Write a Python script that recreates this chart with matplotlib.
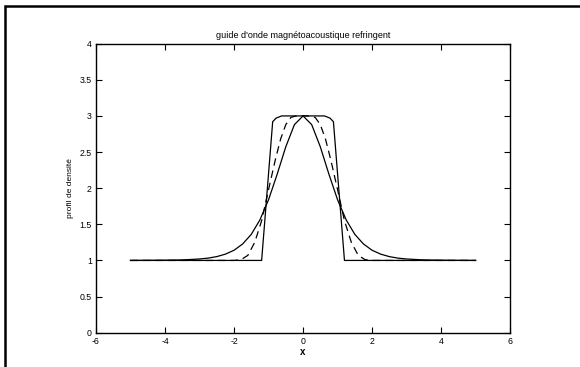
import matplotlib
matplotlib.use("Agg")
import matplotlib.pyplot as plt
from matplotlib.patches import Rectangle
from matplotlib.ticker import FormatStrFormatter

plt.rcParams.update({"font.family": ["Liberation Sans", "DejaVu Sans"],
                     "axes.unicode_minus": False})

# smooth profile (solid)
x_smooth = [-5, -4.5, -4, -3.5, -3, -2.75, -2.5, -2.25, -2, -1.75, -1.5, -1.25, -1, -0.75, -0.5, -0.25, 0,
            0.25, 0.5, 0.75, 1, 1.25, 1.5, 1.75, 2, 2.25, 2.5, 2.75, 3, 3.5, 4, 4.5, 5]
y_smooth = [1.0, 1.001, 1.003, 1.007, 1.02, 1.032, 1.053, 1.087, 1.141, 1.228, 1.361, 1.561, 1.84, 2.193, 2.573, 2.88, 3.0,
            2.88, 2.573, 2.193, 1.84, 1.561, 1.361, 1.228, 1.141, 1.087, 1.053, 1.032, 1.02, 1.007, 1.003, 1.001, 1.0]

# intermediate profile (dashed)
x_dash = [-5, -2.0, -1.8, -1.6, -1.4, -1.2, -1.0, -0.8, -0.65, -0.5, -0.35, -0.2, 0,
          0.2, 0.35, 0.5, 0.65, 0.8, 1.0, 1.2, 1.4, 1.6, 1.8, 2.0, 5]
y_dash = [1.0, 1.0, 1.01, 1.07, 1.25, 1.55, 1.98, 2.4, 2.68, 2.88, 2.98, 3.0, 3.0,
          3.0, 2.98, 2.88, 2.68, 2.4, 1.98, 1.55, 1.25, 1.07, 1.01, 1.0, 1.0]

# sharp profile (solid)
x_sharp = [-5, -1.2, -0.88, -0.78, -0.62, 0, 0.62, 0.78, 0.88, 1.2, 5]
y_sharp = [1.0, 1.0, 2.92, 2.97, 3.0, 3.0, 3.0, 2.97, 2.92, 1.0, 1.0]

fig = plt.figure(figsize=(5.8, 3.67), dpi=100)
ax = fig.add_axes([0.1655, 0.0935, 0.714, 0.7875])

ax.plot(x_sharp, y_sharp, color="black", lw=0.9)
ax.plot(x_dash, y_dash, color="black", lw=0.9, ls=(0, (6, 4)))
ax.plot(x_smooth, y_smooth, color="black", lw=0.9)

ax.set_xlim(-6, 6)
ax.set_ylim(0, 4)
ax.set_xticks(range(-6, 7, 2))
ax.set_yticks([0, 0.5, 1, 1.5, 2, 2.5, 3, 3.5, 4])
ax.yaxis.set_major_formatter(FormatStrFormatter("%g"))
ax.tick_params(direction="in", top=True, right=True, length=4, width=0.8,
               labelsize=6.3, pad=3)
for s in ax.spines.values():
    s.set_linewidth(1.0)

ax.set_title("guide d'onde magnétoacoustique refringent", fontsize=6.5, pad=4)
ax.set_xlabel("x", fontsize=7, fontweight="bold", labelpad=0.5)
ax.set_ylabel("profil de densité", fontsize=6, labelpad=4)

# outer frame around the figure
fig.add_artist(Rectangle((0.0078, -0.1), 1.2, 1.0837, transform=fig.transFigure,
                         fill=False, edgecolor="black", lw=1.8))

fig.savefig("out.png", dpi=100)
